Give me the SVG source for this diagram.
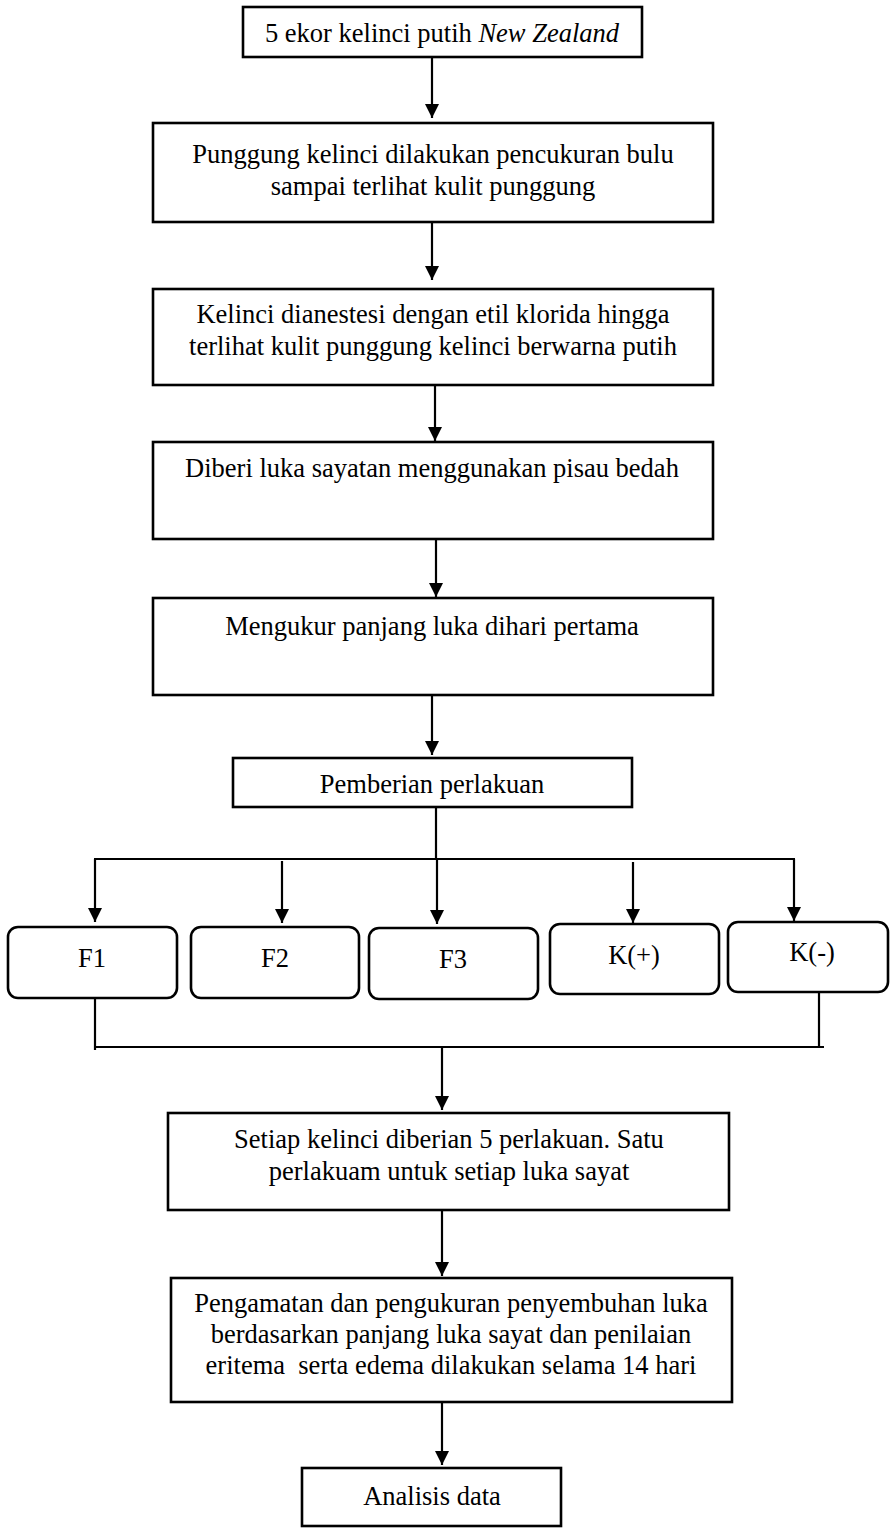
<svg xmlns="http://www.w3.org/2000/svg" width="890" height="1529" viewBox="0 0 890 1529">
<style>
.box{fill:#fff;stroke:#000;stroke-width:2.6}
.ln{fill:none;stroke:#000;stroke-width:2.2}
.arr{fill:none;stroke:#000;stroke-width:2.2;marker-end:url(#ah)}
.t{font-family:"Liberation Serif","Times New Roman",serif;font-size:26.5px;fill:#000;text-anchor:middle}
</style>
<defs>
<marker id="ah" markerWidth="14" markerHeight="14" refX="14" refY="7" orient="auto" markerUnits="userSpaceOnUse"><path d="M0,0 L14,7 L0,14 z" fill="#000"/></marker>
</defs>
<rect width="890" height="1529" fill="#fff"/>
<g id="connectors">
<line class="arr" x1="432" y1="57" x2="432" y2="118"/>
<line class="arr" x1="432" y1="222" x2="432" y2="280"/>
<line class="arr" x1="435" y1="385" x2="435" y2="441"/>
<line class="arr" x1="436" y1="539" x2="436" y2="597"/>
<line class="arr" x1="432" y1="695" x2="432" y2="755"/>
<line class="ln" x1="436" y1="807" x2="436" y2="859"/>
<line class="ln" x1="94" y1="859" x2="795" y2="859"/>
<line class="arr" x1="95" y1="859" x2="95" y2="922"/>
<line class="arr" x1="282" y1="861" x2="282" y2="923"/>
<line class="arr" x1="437" y1="859" x2="437" y2="924"/>
<line class="arr" x1="633" y1="862" x2="633" y2="923"/>
<line class="arr" x1="794" y1="859" x2="794" y2="921"/>
<line class="ln" x1="95" y1="998" x2="95" y2="1050"/>
<line class="ln" x1="819" y1="992" x2="819" y2="1047"/>
<line class="ln" x1="94" y1="1047" x2="824" y2="1047"/>
<line class="arr" x1="442" y1="1047" x2="442" y2="1110"/>
<line class="arr" x1="442" y1="1210" x2="442" y2="1276"/>
<line class="arr" x1="442" y1="1402" x2="442" y2="1465"/>
</g>
<g id="n1"><rect class="box" x="243" y="7" width="399" height="50"/><text class="t" x="442" y="42">5 ekor kelinci putih <tspan font-style="italic">New Zealand</tspan></text></g>
<g id="n2"><rect class="box" x="153" y="123" width="560" height="99"/><text class="t" x="433" y="163">Punggung kelinci dilakukan pencukuran bulu</text><text class="t" x="433" y="195">sampai terlihat kulit punggung</text></g>
<g id="n3"><rect class="box" x="153" y="289" width="560" height="96"/><text class="t" x="433" y="323">Kelinci dianestesi dengan etil klorida hingga</text><text class="t" x="433" y="355">terlihat kulit punggung kelinci berwarna putih</text></g>
<g id="n4"><rect class="box" x="153" y="442" width="560" height="97"/><text class="t" x="432" y="477">Diberi luka sayatan menggunakan pisau bedah</text></g>
<g id="n5"><rect class="box" x="153" y="598" width="560" height="97"/><text class="t" x="432" y="635">Mengukur panjang luka dihari pertama</text></g>
<g id="n6"><rect class="box" x="233" y="758" width="399" height="49"/><text class="t" x="432" y="793">Pemberian perlakuan</text></g>
<g id="f1"><rect class="box" x="8" y="927" width="169" height="71" rx="10"/><text class="t" x="92" y="967">F1</text></g>
<g id="f2"><rect class="box" x="191" y="927" width="168" height="71" rx="10"/><text class="t" x="275" y="967">F2</text></g>
<g id="f3"><rect class="box" x="369" y="928" width="169" height="71" rx="10"/><text class="t" x="453" y="968">F3</text></g>
<g id="kp"><rect class="box" x="550" y="924" width="169" height="70" rx="10"/><text class="t" x="634" y="964">K(+)</text></g>
<g id="km"><rect class="box" x="728" y="922" width="160" height="70" rx="10"/><text class="t" x="812" y="961">K(-)</text></g>
<g id="n7"><rect class="box" x="168" y="1113" width="561" height="97"/><text class="t" x="449" y="1148">Setiap kelinci diberian 5 perlakuan. Satu</text><text class="t" x="449" y="1180">perlakuam untuk setiap luka sayat</text></g>
<g id="n8"><rect class="box" x="171" y="1278" width="561" height="124"/><text class="t" x="451" y="1312">Pengamatan dan pengukuran penyembuhan luka</text><text class="t" x="451" y="1343">berdasarkan panjang luka sayat dan penilaian</text><text class="t" x="451" y="1374" style="white-space:pre">eritema  serta edema dilakukan selama 14 hari</text></g>
<g id="n9"><rect class="box" x="302" y="1468" width="259" height="58"/><text class="t" x="432" y="1505">Analisis data</text></g>
</svg>
